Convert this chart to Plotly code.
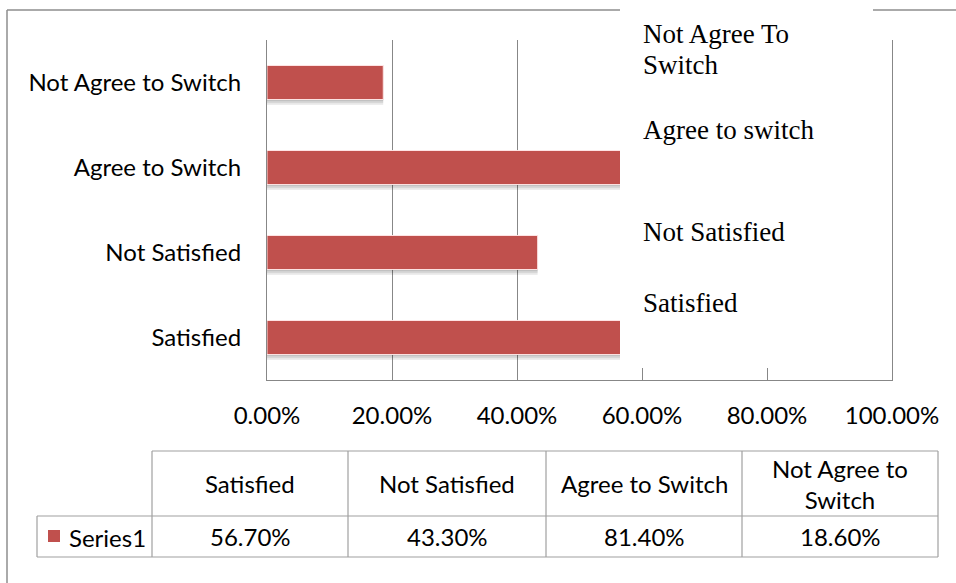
import textwrap
import plotly.graph_objects as go

# ---- data -------------------------------------------------------------
categories = ["Satisfied", "Not Satisfied", "Agree to Switch", "Not Agree to Switch"]
shares = [0.567, 0.433, 0.814, 0.186]
series_name = "Series1"
x_ticks = [0.0, 0.2, 0.4, 0.6, 0.8, 1.0]
note_lines = ["Not Agree To", "Switch", "Agree to switch", "Not Satisfied", "Satisfied"]

# ---- styling ----------------------------------------------------------
W, H = 956, 583
BAR_RED = "#C0504D"
GRID = "#878787"
FRAME = "#8e8e8e"
TABLE_LINE = "#a0a0a0"
SANS = "Lato, 'Open Sans', sans-serif"
SERIF = "'Liberation Serif', 'DejaVu Serif', serif"
FONT_SIZE = 24


def fx(px):
    """pixel column -> paper x"""
    return px / W


def fy(py):
    """pixel row (from top) -> paper y"""
    return 1 - py / H


PLOT_L, PLOT_R, PLOT_T, PLOT_B = 267, 892, 40, 380

fig = go.Figure()

# soft drop shadow beneath each bar, stacked from translucent layers
for k, alpha in enumerate([0.10, 0.09, 0.07]):
    fig.add_trace(go.Bar(
        x=shares, y=categories, orientation="h",
        width=0.4, offset=-0.2 - 0.022 * (k + 1),
        marker=dict(color=f"rgba(0,0,0,{alpha})", line=dict(width=0)),
        hoverinfo="skip", showlegend=False,
    ))

# the data bars
fig.add_trace(go.Bar(
    x=shares, y=categories, orientation="h",
    width=0.4, offset=-0.2,
    marker=dict(color=BAR_RED, line=dict(color="rgba(255,230,230,0.95)", width=1)),
    name=series_name, showlegend=False,
))

shapes = []
annotations = []

# outer chart frame (top and left edges)
shapes.append(dict(type="line", xref="paper", yref="paper",
                   x0=fx(7), x1=fx(W), y0=fy(10), y1=fy(10),
                   line=dict(color=FRAME, width=1.5), layer="above"))
shapes.append(dict(type="line", xref="paper", yref="paper",
                   x0=fx(7), x1=fx(7), y0=fy(10), y1=fy(H),
                   line=dict(color=FRAME, width=1.5), layer="above"))

# white note box laid over the right part of the plot
shapes.append(dict(type="rect", xref="paper", yref="paper",
                   x0=fx(620), x1=fx(873), y0=fy(368), y1=1,
                   fillcolor="white", line=dict(width=0), layer="above"))

note_rows = [34, 65, 130, 232, 303]
for text, row in zip(note_lines, note_rows):
    annotations.append(dict(xref="paper", yref="paper", x=fx(641), y=fy(row),
                            xanchor="left", yanchor="middle", showarrow=False,
                            text=text, font=dict(family=SERIF, size=27, color="black")))

# ---- data table under the axis -----------------------------------------
col_edges = [152, 348, 546, 742, 938]
row_top, row_mid, row_bot = 451, 516, 557
key_left = 37

table_lines = [
    (col_edges[0], row_top, col_edges[-1], row_top),
    (key_left, row_mid, col_edges[-1], row_mid),
    (key_left, row_bot, col_edges[-1], row_bot),
    (key_left, row_mid, key_left, row_bot),
]
for xe in col_edges:
    table_lines.append((xe, row_top, xe, row_bot))
for x0, y0, x1, y1 in table_lines:
    shapes.append(dict(type="line", xref="paper", yref="paper",
                       x0=fx(x0), x1=fx(x1), y0=fy(y0), y1=fy(y1),
                       line=dict(color=TABLE_LINE, width=1.2), layer="above"))

for i, (cat, val) in enumerate(zip(categories, shares)):
    cx = (col_edges[i] + col_edges[i + 1]) / 2
    header = "<br>".join(textwrap.wrap(cat, 15))
    annotations.append(dict(xref="paper", yref="paper", x=fx(cx), y=fy((row_top + row_mid) / 2),
                            xanchor="center", yanchor="middle", showarrow=False,
                            text=header, align="center",
                            font=dict(family=SANS, size=FONT_SIZE, color="black")))
    annotations.append(dict(xref="paper", yref="paper", x=fx(cx), y=fy((row_mid + row_bot) / 2),
                            xanchor="center", yanchor="middle", showarrow=False,
                            text=f"{val:.2%}",
                            font=dict(family=SANS, size=FONT_SIZE, color="black")))

# legend key inside the table
shapes.append(dict(type="rect", xref="paper", yref="paper",
                   x0=fx(48), x1=fx(60), y0=fy(542), y1=fy(530),
                   fillcolor=BAR_RED, line=dict(width=0), layer="above"))
annotations.append(dict(xref="paper", yref="paper", x=fx(67), y=fy(537),
                        xanchor="left", yanchor="middle", showarrow=False,
                        text=series_name,
                        font=dict(family=SANS, size=FONT_SIZE, color="black")))

fig.update_layout(
    width=W, height=H, autosize=False,
    margin=dict(l=0, r=0, t=0, b=0),
    template="none",
    paper_bgcolor="white", plot_bgcolor="white",
    barmode="overlay", showlegend=False,
    xaxis=dict(
        domain=[fx(PLOT_L), fx(PLOT_R)], range=[0, 1],
        tickmode="array", tickvals=x_ticks, tickformat=".2%",
        showgrid=True, gridcolor=GRID, gridwidth=1.2,
        zeroline=False, showline=True, linecolor=GRID, linewidth=1.2,
        ticks="", ticklabelstandoff=14, automargin=False,
        tickfont=dict(family=SANS, size=FONT_SIZE, color="black"),
        fixedrange=True,
    ),
    yaxis=dict(
        domain=[fy(PLOT_B), fy(PLOT_T)],
        categoryorder="array", categoryarray=categories, range=[-0.5, 3.5],
        showgrid=False, zeroline=False, showline=True, mirror=True,
        linecolor=GRID, linewidth=1.2,
        ticks="", ticklabelstandoff=20, automargin=False,
        tickfont=dict(family=SANS, size=FONT_SIZE, color="black"),
        fixedrange=True,
    ),
    shapes=shapes,
    annotations=annotations,
)

fig.write_html("out.html")
